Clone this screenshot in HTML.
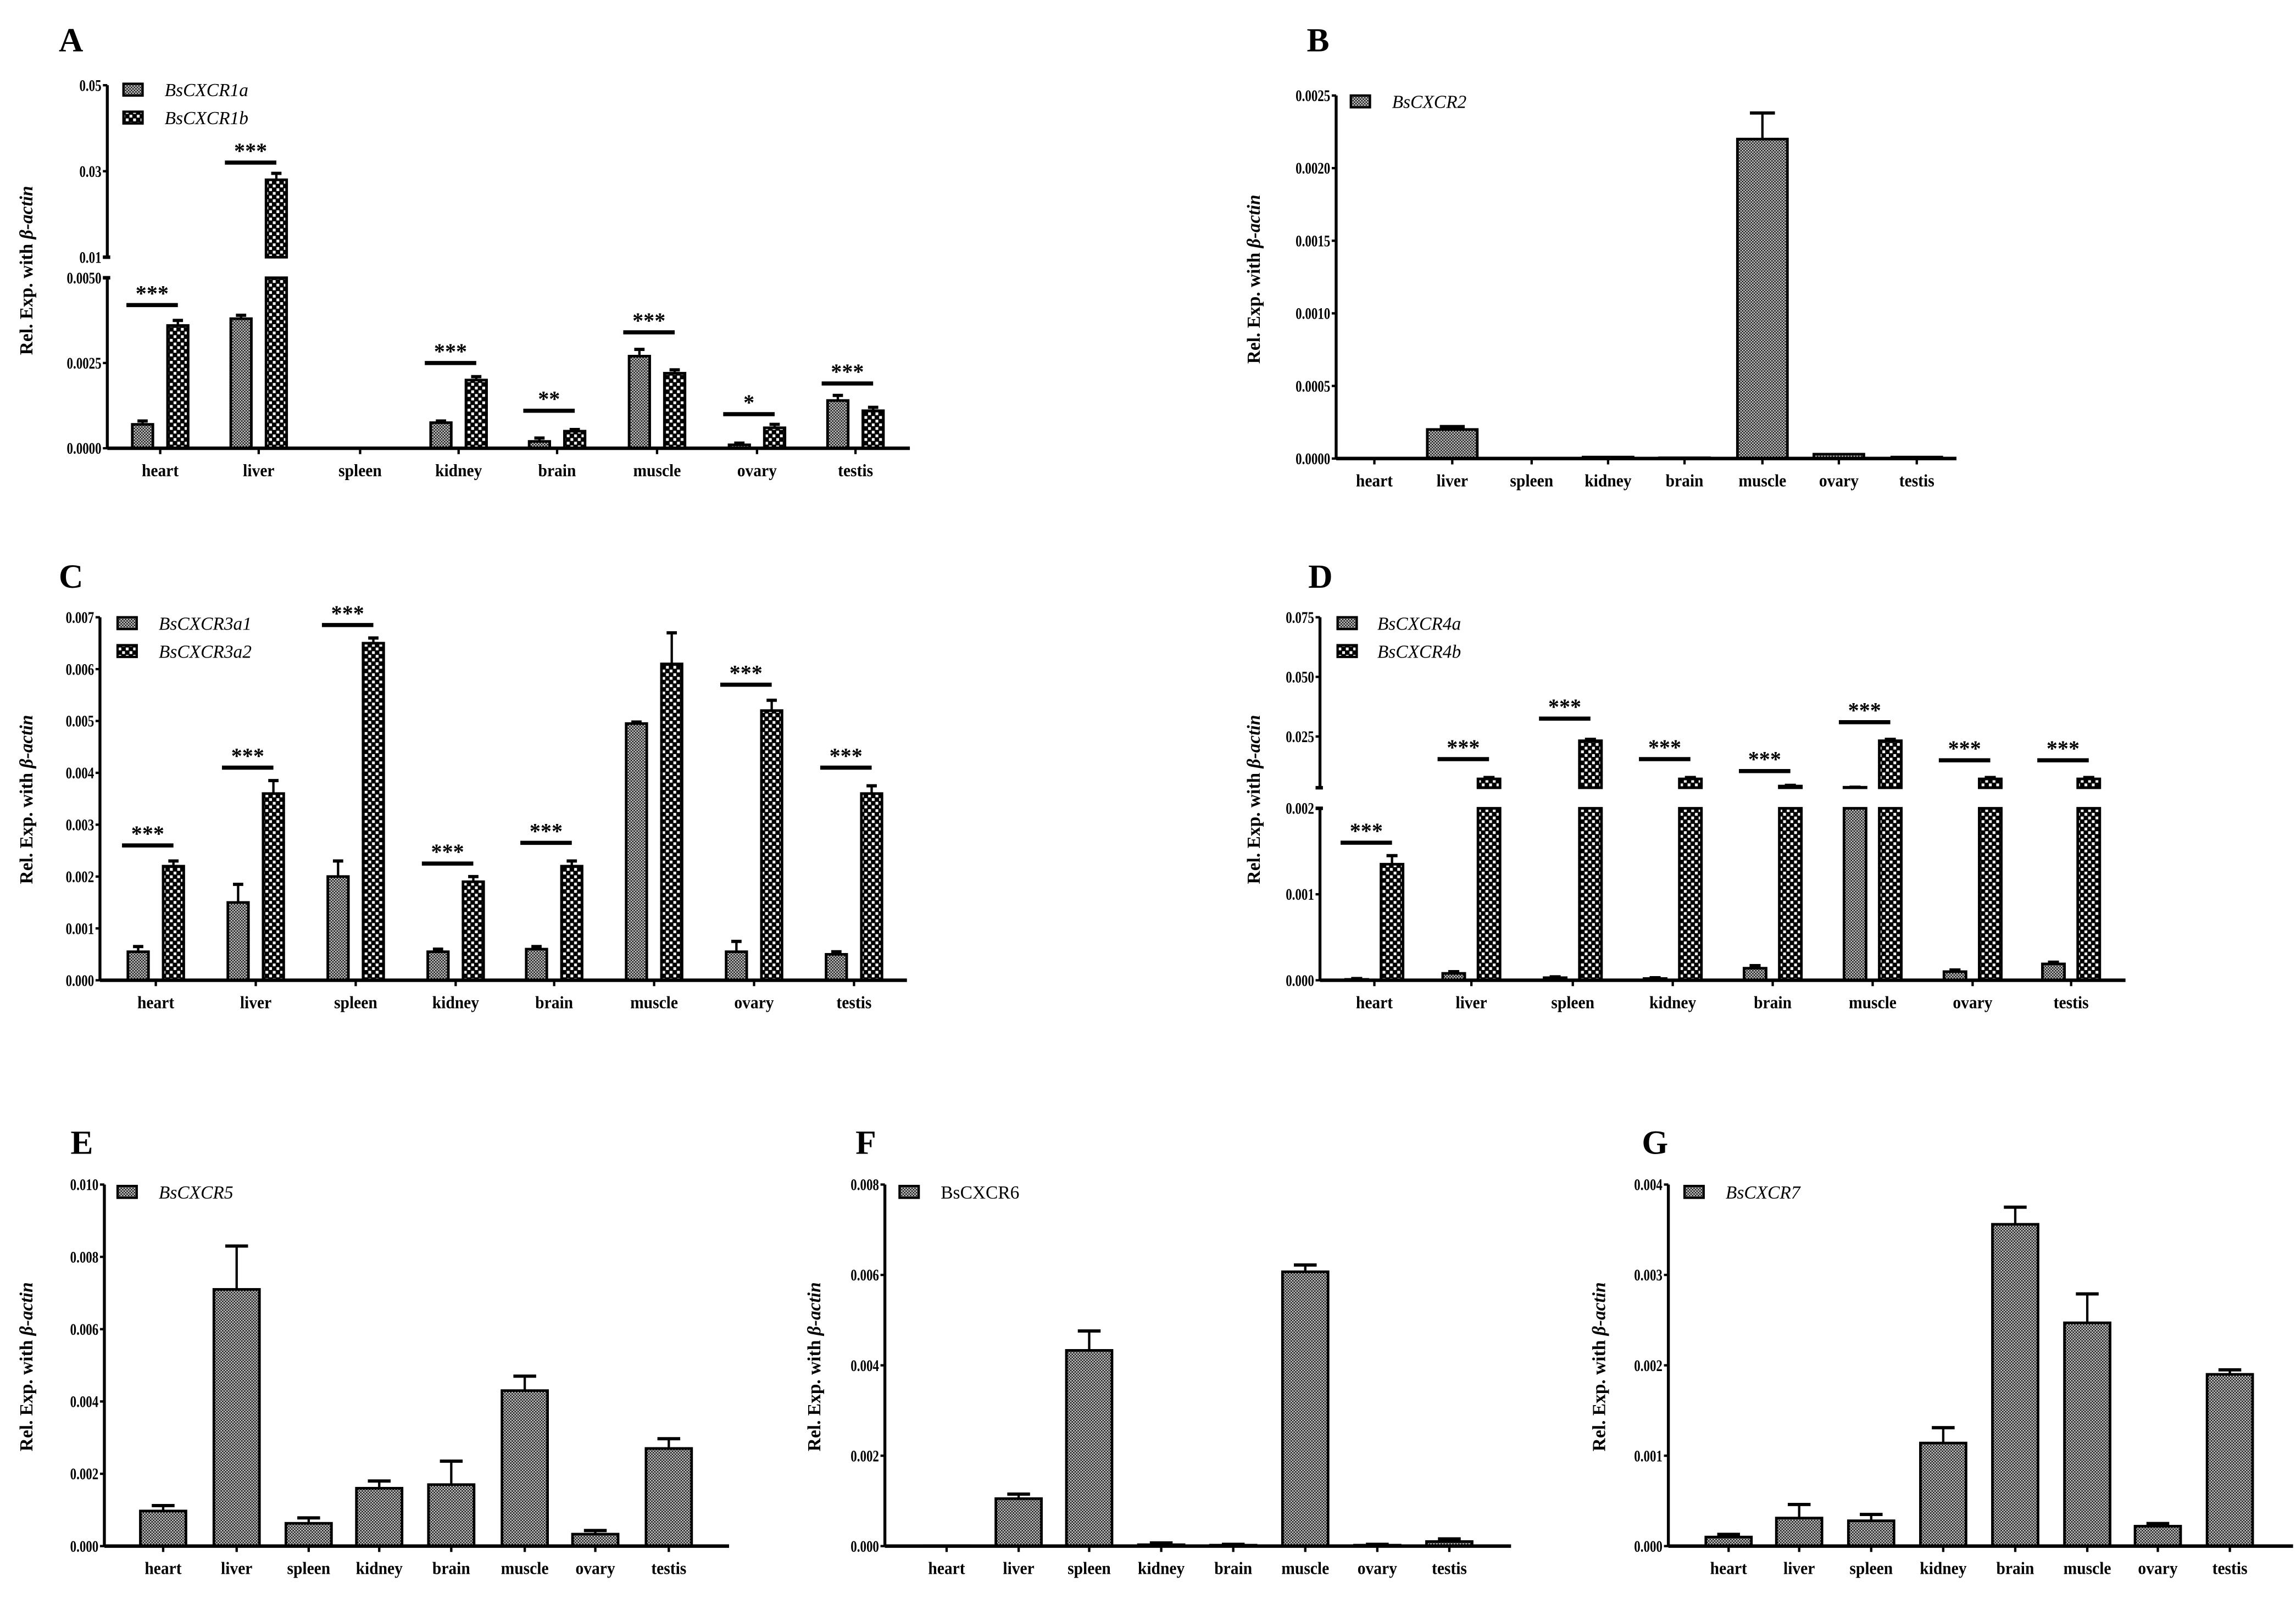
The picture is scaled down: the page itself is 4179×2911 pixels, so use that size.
<!DOCTYPE html>
<html><head><meta charset="utf-8"><title>Tissue expression of BsCXCR genes</title>
<style>
html,body{margin:0;padding:0;background:#fff;}
svg{display:block;}
text{font-family:"Liberation Serif",serif;}
</style></head>
<body>
<svg id="fig" xmlns="http://www.w3.org/2000/svg" width="4179" height="2911" viewBox="0 0 1562 1088" preserveAspectRatio="none">
<defs>
<pattern id="patA" patternUnits="userSpaceOnUse" width="2" height="2">
<rect width="2" height="2" fill="#cfcfcf"/><rect x="0" y="0" width="1" height="1" fill="#1a1a1a"/><rect x="1" y="1" width="1" height="1" fill="#1a1a1a"/>
</pattern>
<pattern id="patB" patternUnits="userSpaceOnUse" width="5" height="5">
<rect width="5" height="5" fill="#000"/><rect x="0.6" y="0.6" width="1.9" height="1.9" fill="#fff"/><rect x="3.1" y="3.1" width="1.9" height="1.9" fill="#fff"/>
</pattern>
</defs>
</svg>
<script>
const tissues = ["heart","liver","spleen","kidney","brain","muscle","ovary","testis"];

// Panel A
const aSeries1 = [0.0007,0.0038,0,0.00075,0.0002,0.0027,0.0001,0.0014];
const aErr1 = [0.0001,0.0001,0,0.00005,0.0001,0.0002,0.00005,0.00015];
const aSeries2 = [0.0036,0.028,0,0.002,0.0005,0.0022,0.0006,0.0011];
const aErr2 = [0.00015,0.0015,0,0.0001,0.00005,0.0001,0.0001,0.0001];
const aSig = ["***","***","","***","**","***","*","***"];
const aSigVal = [0.0042,0.032,0,0.0025,0.0011,0.0034,0.001,0.0019];
const aTickVals = [0,0.0025,0.005,0.01,0.03,0.05];
const aTickLabels = ["0.0000","0.0025","0.0050","0.01","0.03","0.05"];

// Panel B
const bSeries = [0.000002,0.0002,0.000003,0.00001,0.000005,0.0022,0.00003,0.00001];
const bErr = [0,0.00002,0,0,0,0.00018,0,0];
const bTickVals = [0,0.0005,0.001,0.0015,0.002,0.0025];
const bTickLabels = ["0.0000","0.0005","0.0010","0.0015","0.0020","0.0025"];

// Panel C
const cSeries1 = [0.00055,0.0015,0.002,0.00055,0.0006,0.00495,0.00055,0.0005];
const cErr1 = [0.0001,0.00035,0.0003,0.00005,0.00005,0.00003,0.0002,0.00005];
const cSeries2 = [0.0022,0.0036,0.0065,0.0019,0.0022,0.0061,0.0052,0.0036];
const cErr2 = [0.0001,0.00025,0.0001,0.0001,0.0001,0.0006,0.0002,0.00015];
const cSig = ["***","***","***","***","***","","***","***"];
const cSigVal = [0.0026,0.0041,0.00685,0.00225,0.00265,0,0.0057,0.0041];
const cTickVals = [0,0.001,0.002,0.003,0.004,0.005,0.006,0.007];
const cTickLabels = ["0.000","0.001","0.002","0.003","0.004","0.005","0.006","0.007"];

// Panel D
const dSeries1 = [0.00001,0.00008,0.00003,0.00002,0.00014,0.0037,0.0001,0.00019];
const dErr1 = [0.00001,0.00002,0.00001,0.00001,0.00003,0.00005,0.00002,0.00002];
const dSeries2 = [0.00135,0.0072,0.0232,0.0072,0.0042,0.0232,0.0072,0.0072];
const dErr2 = [0.0001,0.0006,0.0006,0.0006,0.0003,0.0006,0.0006,0.0006];
const dSig = ["***","***","***","***","***","***","***","***"];
const dSigVal = [0.0016,0.0155,0.0325,0.0155,0.0105,0.031,0.015,0.015];
const dTickVals = [0,0.001,0.002,0.025,0.05,0.075];
const dTickLabels = ["0.000","0.001","0.002","0.025","0.050","0.075"];

// Panel E
const eSeries = [0.00097,0.0071,0.00063,0.0016,0.0017,0.0043,0.00033,0.0027];
const eErr = [0.00015,0.0012,0.00015,0.0002,0.00065,0.0004,0.0001,0.00027];
const eTickVals = [0,0.002,0.004,0.006,0.008,0.01];
const eTickLabels = ["0.000","0.002","0.004","0.006","0.008","0.010"];

// Panel F
const fSeries = [0.00001,0.00105,0.00433,0.00003,0.00002,0.00607,0.00002,0.0001];
const fErr = [0,0.0001,0.00043,0.00004,0.00002,0.00015,0.00002,0.00006];
const fTickVals = [0,0.002,0.004,0.006,0.008];
const fTickLabels = ["0.000","0.002","0.004","0.006","0.008"];

// Panel G
const gSeries = [0.0001,0.00031,0.00028,0.00114,0.00356,0.00247,0.00022,0.0019];
const gErr = [0.00003,0.00015,0.00007,0.00017,0.00019,0.00032,0.00003,0.00005];
const gTickVals = [0,0.001,0.002,0.003,0.004];
const gTickLabels = ["0.000","0.001","0.002","0.003","0.004"];

const NS = "http://www.w3.org/2000/svg";
const svg = document.getElementById('fig');
function mk(tag, attrs, parent){
  const e = document.createElementNS(NS, tag);
  for (const k in attrs) e.setAttribute(k, attrs[k]);
  (parent||svg).appendChild(e);
  return e;
}
function makeScale(segs){
  return function(v){
    for (const s of segs){
      if (v <= s.vmax || s === segs[segs.length-1]){
        if (v < s.vmin) v = s.vmin;
        return s.y0 - (v - s.vmin) / (s.vmax - s.vmin) * (s.y0 - s.y1);
      }
    }
  };
}
function panel(cfg){
  const g = mk('g', {});
  
  
  const y = makeScale(cfg.segs);
  const L = mk('text', {x:cfg.letter[0], y:cfg.letter[1], 'font-size':23, 'font-weight':'bold'}, g);
  L.textContent = cfg.letterText;
  
  
  const nS = cfg.series.length;
  cfg.series.forEach((vals, si) => {
    vals.forEach((v, i) => {
      const cx = cfg.cats[i] + (nS === 2 ? (si === 0 ? -12 : 12) : 0);
      const w = cfg.barW;
      cfg.segs.forEach(s => {
        if (v <= s.vmin && s !== cfg.segs[0]) return;
        const top = v >= s.vmax ? s.y1 : y(Math.max(v, s.vmin));
        const bottom = s.y0;
        if (bottom - top < 0.3) {
          const r0 = mk('rect', {x:cx-w/2, y:bottom-1, width:w, height:1, fill:'#000'}, g);
          
          
          return;
        }
        const r = mk('rect', {x:cx-w/2, y:top, width:w, height:bottom-top, fill:'url(#'+cfg.pats[si]+')', stroke:'#000', 'stroke-width':1.8}, g);
        
        
      });
      const e = cfg.errs[si][i];
      if (e > 0 && v > 0){
        const yt = y(v), ye = y(v + e);
        const l = mk('line', {x1:cx, x2:cx, y1:yt, y2:ye, stroke:'#000', 'stroke-width':1.6}, g);
        
        
        const c = mk('line', {x1:cx-w*0.25, x2:cx+w*0.25, y1:ye, y2:ye, stroke:'#000', 'stroke-width':2.2}, g);
        
        
      }
    });
  });
  cfg.segs.forEach(s => {
    const a = mk('line', {x1:cfg.ax, x2:cfg.ax, y1:s.y0, y2:s.y1, stroke:'#000', 'stroke-width':2}, g);
    
    
  });
  if (cfg.segs.length > 1){
    cfg.segs.forEach(s => {
      [s.y0, s.y1].forEach((yy, k) => {
        if ((s === cfg.segs[0] && k===0) || (s === cfg.segs[cfg.segs.length-1] && k===1)) return;
        const b = mk('line', {x1:cfg.ax-3, x2:cfg.ax+2, y1:yy, y2:yy, stroke:'#000', 'stroke-width':2.4}, g);
        
        
      });
    });
  }
  const base = cfg.segs[0].y0;
  const xa = mk('line', {x1:cfg.ax, x2:cfg.axEnd, y1:base, y2:base, stroke:'#000', 'stroke-width':2.4}, g);
  
  
  cfg.tickVals.forEach((tv, i) => {
    const yy = y(tv);
    const t = mk('line', {x1:cfg.ax-3, x2:cfg.ax, y1:yy, y2:yy, stroke:'#000', 'stroke-width':1.6}, g);
    
    
    const tl = mk('text', {x:cfg.ax-4, y:yy+3.8, 'font-size':11, 'font-weight':'bold', 'text-anchor':'end', transform:'translate('+(cfg.ax-4)+' 0) scale(0.78 1) translate('+(-(cfg.ax-4))+' 0)'}, g);
    tl.textContent = cfg.tickLabels[i];
    
    
  });
  cfg.cats.forEach((cx, i) => {
    const t = mk('line', {x1:cx, x2:cx, y1:base, y2:base+4, stroke:'#000', 'stroke-width':1.6}, g);
    
    
    const tl = mk('text', {x:cx, y:base+19, 'font-size':12, 'font-weight':'bold', 'text-anchor':'middle', transform:'translate('+cx+' 0) scale(0.92 1) translate('+(-cx)+' 0)'}, g);
    tl.textContent = tissues[i];
    
    
  });
  const yt = mk('text', {x:0, y:0, 'font-size':12.5, 'font-weight':'bold', 'text-anchor':'middle', transform:'translate('+cfg.yTitle[0]+' '+cfg.yTitle[1]+') rotate(-90)'}, g);
  
  
  const t1 = mk('tspan', {}, yt); t1.textContent = 'Rel. Exp. with ';
  const t2 = mk('tspan', {'font-style':'italic'}, yt); t2.textContent = 'β-actin';
  cfg.legend.forEach((lg, i) => {
    const ly = cfg.legY + i*19;
    const r = mk('rect', {x:cfg.legX, y:ly-6, width:13, height:8, fill:'url(#'+cfg.pats[i]+')', stroke:'#000', 'stroke-width':1.6}, g);
    
    
    const t = mk('text', {x:cfg.legX+cfg.legGap, y:ly+2.5, 'font-size':12.5, 'font-style':cfg.legItalic===false?'normal':'italic'}, g);
    t.textContent = lg;
    
    
  });
  if (cfg.sig){
    cfg.sig.forEach((s, i) => {
      if (!s) return;
      const cx = cfg.cats[i];
      const yy = y(cfg.sigVal[i]);
      const l = mk('line', {x1:cx-23, x2:cx+12, y1:yy, y2:yy, stroke:'#000', 'stroke-width':2.8}, g);
      
      
      const t = mk('text', {x:cx-5.5, y:yy-3, 'font-size':15, 'font-weight':'bold', 'text-anchor':'middle'}, g);
      t.textContent = s;
      
      
    });
  }
}

panel({name:'panel-a', letterText:'A', letter:[40,35],
  segs:[{vmin:0,vmax:0.005,y0:305,y1:189},{vmin:0.01,vmax:0.05,y0:175,y1:58}],
  cats:[109,176,245,312,379,447,515,582], ax:73, axEnd:619, barW:14,
  series:[aSeries1,aSeries2], errs:[aErr1,aErr2], pats:['patA','patB'],
  tickVals:aTickVals, tickLabels:aTickLabels, yTitle:[22,184],
  legend:['BsCXCR1a','BsCXCR1b'], legX:84, legY:63, legGap:28,
  sig:aSig, sigVal:aSigVal});
panel({name:'panel-b', letterText:'B', letter:[889,35],
  segs:[{vmin:0,vmax:0.0025,y0:312,y1:65}],
  cats:[935,988,1042,1094,1146,1199,1251,1304], ax:909, axEnd:1331, barW:34,
  series:[bSeries], errs:[bErr], pats:['patA'],
  tickVals:bTickVals, tickLabels:bTickLabels, yTitle:[857,190],
  legend:['BsCXCR2'], legX:919, legY:71, legGap:28});
panel({name:'panel-c', letterText:'C', letter:[40,400],
  segs:[{vmin:0,vmax:0.007,y0:667,y1:420}],
  cats:[106,174,242,310,377,445,513,581], ax:68, axEnd:617, barW:14,
  series:[cSeries1,cSeries2], errs:[cErr1,cErr2], pats:['patA','patB'],
  tickVals:cTickVals, tickLabels:cTickLabels, yTitle:[22,544],
  legend:['BsCXCR3a1','BsCXCR3a2'], legX:80, legY:426, legGap:28,
  sig:cSig, sigVal:cSigVal});
panel({name:'panel-d', letterText:'D', letter:[890,400],
  segs:[{vmin:0,vmax:0.002,y0:667,y1:550},{vmin:0.0035,vmax:0.075,y0:536,y1:420}],
  cats:[935,1001,1070,1138,1206,1274,1342,1409], ax:898, axEnd:1446, barW:15,
  series:[dSeries1,dSeries2], errs:[dErr1,dErr2], pats:['patA','patB'],
  tickVals:dTickVals, tickLabels:dTickLabels, yTitle:[857,544],
  legend:['BsCXCR4a','BsCXCR4b'], legX:910, legY:426, legGap:27,
  sig:dSig, sigVal:dSigVal});
panel({name:'panel-e', letterText:'E', letter:[48,785],
  segs:[{vmin:0,vmax:0.01,y0:1052,y1:806}],
  cats:[111,161,210,258,307,357,405,455], ax:71, axEnd:496, barW:31,
  series:[eSeries], errs:[eErr], pats:['patA'],
  tickVals:eTickVals, tickLabels:eTickLabels, yTitle:[22,930],
  legend:['BsCXCR5'], legX:80, legY:813, legGap:28});
panel({name:'panel-f', letterText:'F', letter:[582,785],
  segs:[{vmin:0,vmax:0.008,y0:1052,y1:806}],
  cats:[644,693,741,790,839,888,937,986], ax:602, axEnd:1028, barW:31,
  series:[fSeries], errs:[fErr], pats:['patA'],
  tickVals:fTickVals, tickLabels:fTickLabels, yTitle:[558,930],
  legend:['BsCXCR6'], legX:612, legY:813, legGap:28, legItalic:false});
panel({name:'panel-g', letterText:'G', letter:[1117,785],
  segs:[{vmin:0,vmax:0.004,y0:1052,y1:806}],
  cats:[1176,1224,1273,1322,1371,1420,1468,1517], ax:1135, axEnd:1560, barW:31,
  series:[gSeries], errs:[gErr], pats:['patA'],
  tickVals:gTickVals, tickLabels:gTickLabels, yTitle:[1092,930],
  legend:['BsCXCR7'], legX:1146, legY:813, legGap:28});
</script>
</body></html>
